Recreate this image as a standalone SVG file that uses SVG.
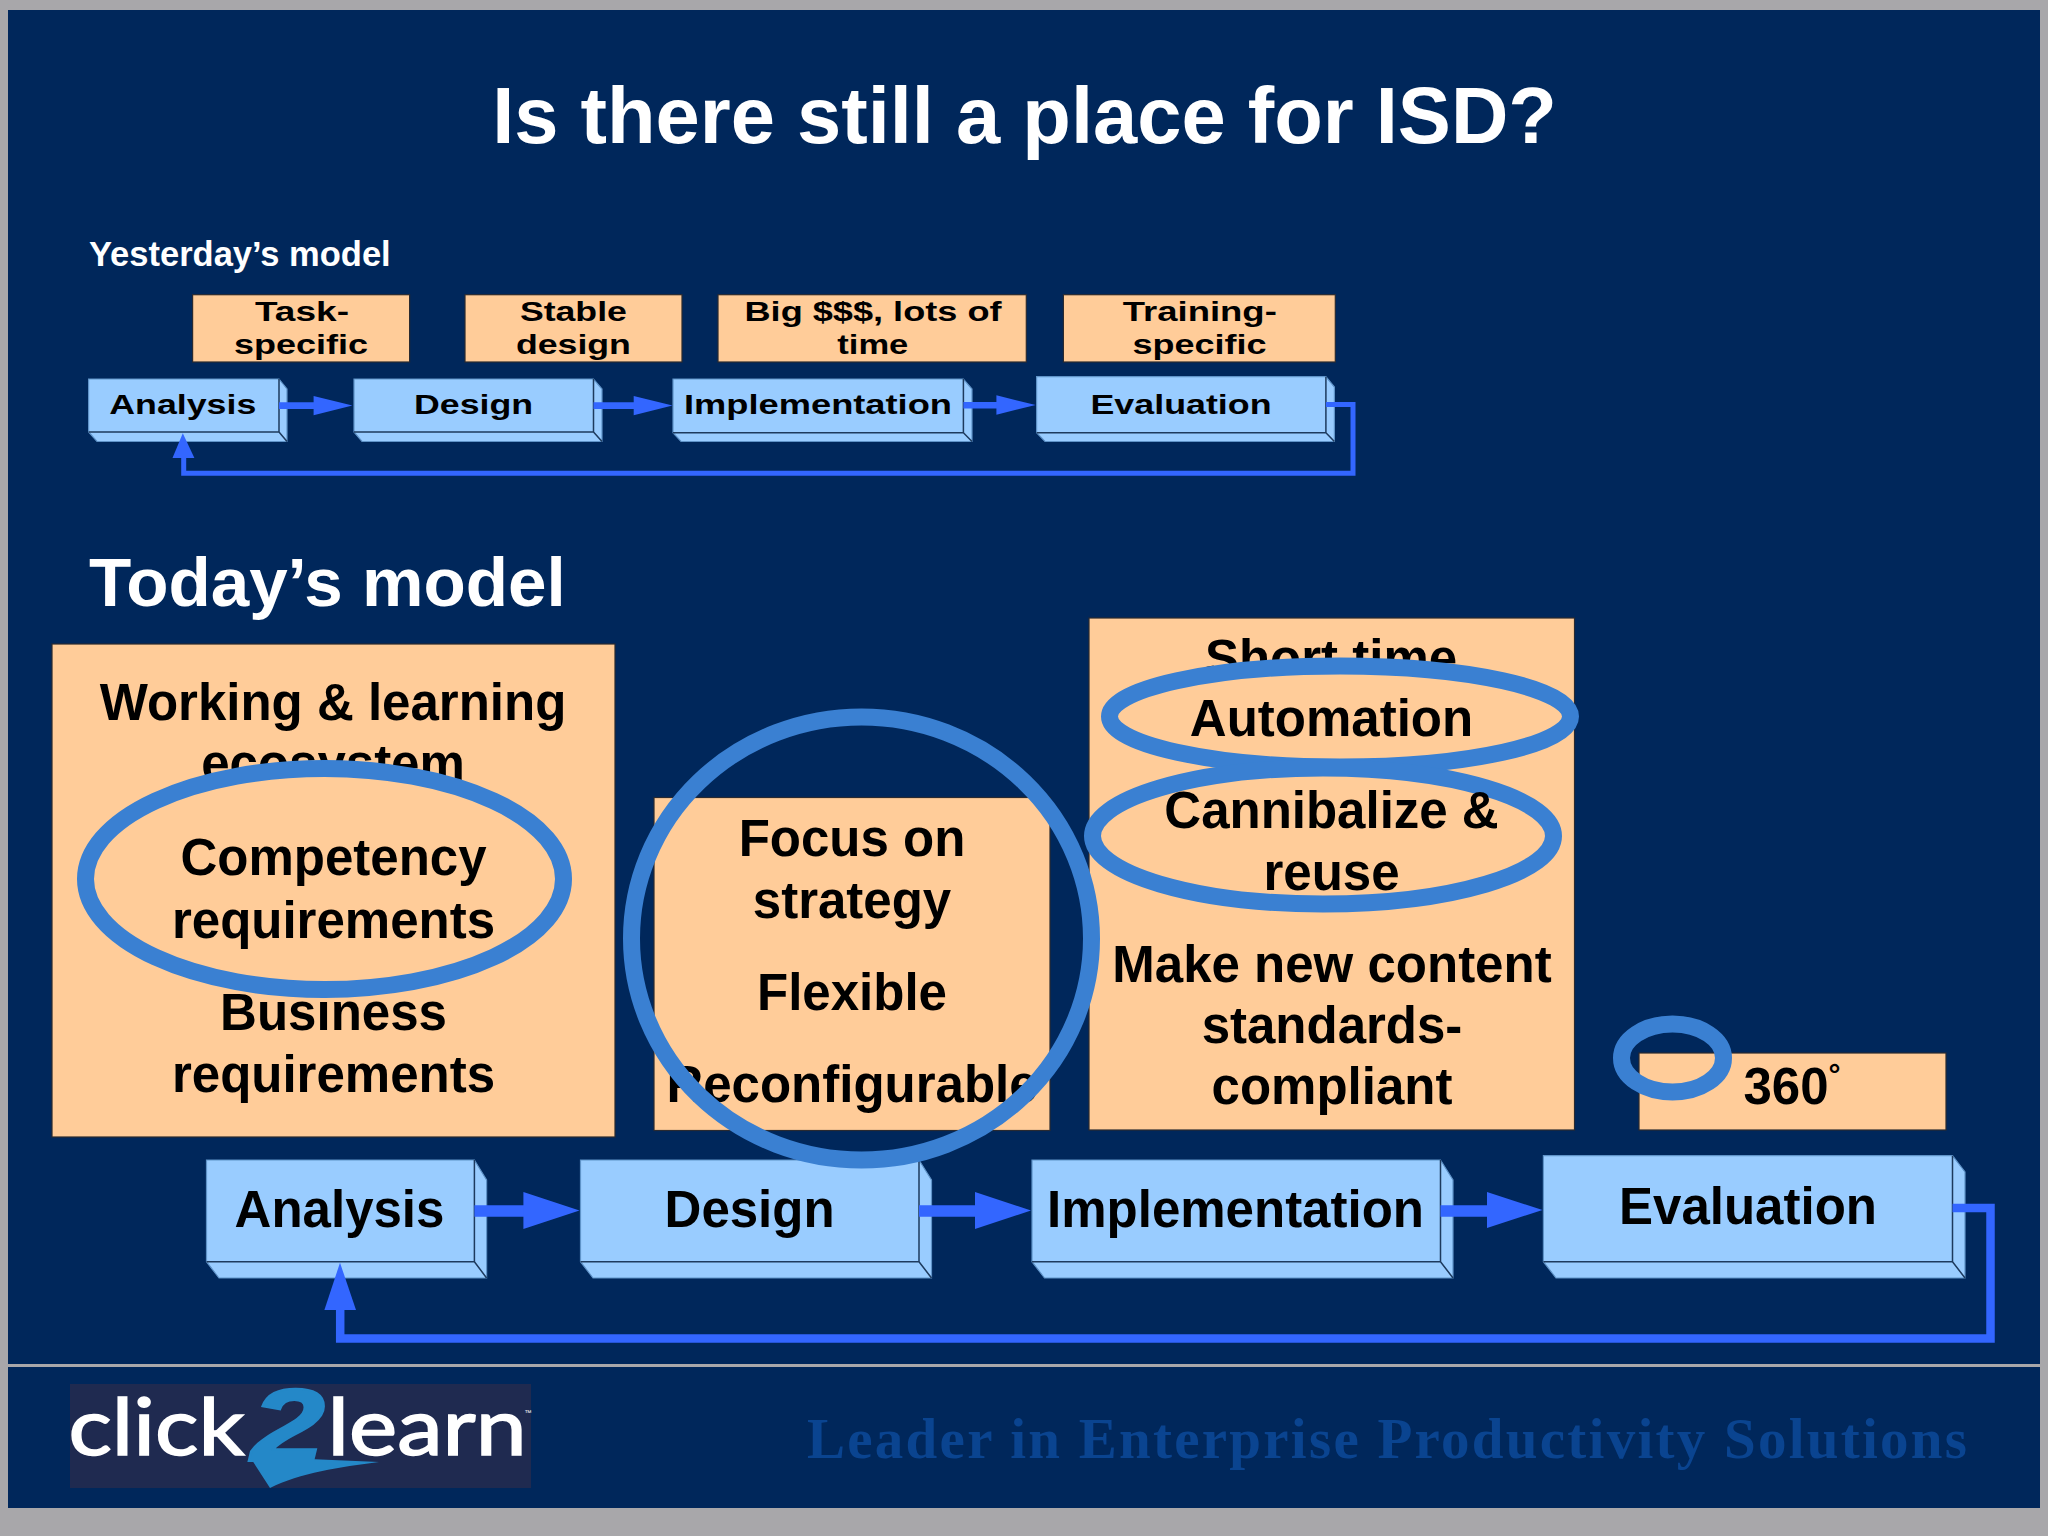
<svg xmlns="http://www.w3.org/2000/svg" width="2048" height="1536" viewBox="0 0 2048 1536">
<defs>
<style>
text{font-family:"Liberation Sans",Arial,sans-serif;font-weight:700;fill:#000;text-anchor:middle}
.big{font-size:51px}
.small{font-size:28px}
.head{fill:#fff;text-anchor:start}
.note{fill:#ffcc99;stroke:#2a2a30;stroke-width:1.2}
.face{fill:#99ccff;stroke:#5f93c8;stroke-width:1.2;stroke-linejoin:miter}
.edge{fill:none;stroke:#1d3a5e;stroke-width:1.5}
.ring{fill:none;stroke:#3a80d2;stroke-width:17}
.ringf{fill:#ffcc99;stroke:#3a80d2;stroke-width:17}
.conn{fill:none;stroke:#3366ff}
.tip{fill:#3366ff}
</style>
</defs>
<rect width="2048" height="1536" fill="#a8a7aa"/>
<rect x="8" y="10" width="2032" height="1498" fill="#00275b"/>
<rect x="8" y="1364" width="2032" height="3" fill="#a8a7aa"/>

<text id="title" x="1024.5" y="143" style="font-size:79.5px;fill:#fff">Is there still a place for ISD?</text>
<text id="yesterday-label" class="head" x="89" y="266" style="font-size:34.5px">Yesterday’s model</text>
<text id="today-label" class="head" x="89" y="606" style="font-size:69.2px">Today’s model</text>

<g id="y-note-task"><rect class="note" x="192.6" y="294.7" width="217" height="67.3"/>
<text class="small" x="302" y="321" textLength="94" lengthAdjust="spacingAndGlyphs">Task-</text>
<text class="small" x="301" y="354" textLength="134" lengthAdjust="spacingAndGlyphs">specific</text></g>
<g id="y-note-stable"><rect class="note" x="465" y="294.7" width="217" height="67.3"/>
<text class="small" x="573.4" y="321" textLength="107" lengthAdjust="spacingAndGlyphs">Stable</text>
<text class="small" x="573.4" y="354" textLength="115" lengthAdjust="spacingAndGlyphs">design</text></g>
<g id="y-note-big"><rect class="note" x="718" y="294.7" width="308.3" height="67.3"/>
<text class="small" x="873" y="321" textLength="257" lengthAdjust="spacingAndGlyphs">Big $$$, lots of</text>
<text class="small" x="872.8" y="354" textLength="71" lengthAdjust="spacingAndGlyphs">time</text></g>
<g id="y-note-training"><rect class="note" x="1063.4" y="294.7" width="271.9" height="67.3"/>
<text class="small" x="1199.8" y="321" textLength="154" lengthAdjust="spacingAndGlyphs">Training-</text>
<text class="small" x="1199.6" y="354" textLength="134" lengthAdjust="spacingAndGlyphs">specific</text></g>

<g id="y-analysis">
<path class="face" d="M88.6 379H279L287 389V441.5H97L88.6 432Z"/>
<path class="edge" d="M88.6 432H279V379M279 432L287 441.5"/>
<text class="small" x="182.8" y="414" textLength="147" lengthAdjust="spacingAndGlyphs">Analysis</text></g>
<g id="y-design">
<path class="face" d="M354 379H593.5L602 389V441.5H362L354 432Z"/>
<path class="edge" d="M354 432H593.5V379M593.5 432L602 441.5"/>
<text class="small" x="473.6" y="414" textLength="119" lengthAdjust="spacingAndGlyphs">Design</text></g>
<g id="y-implementation">
<path class="face" d="M673 379H963.4L972 389V441.5H681L673 432.7Z"/>
<path class="edge" d="M673 432.7H963.4V379M963.4 432.7L972 441.5"/>
<text class="small" x="818" y="414" textLength="268" lengthAdjust="spacingAndGlyphs">Implementation</text></g>
<g id="y-evaluation">
<path class="face" d="M1036.6 376.7H1325.9L1334.4 387V441.5H1045L1036.6 432.7Z"/>
<path class="edge" d="M1036.6 432.7H1325.9V376.7M1325.9 432.7L1334.4 441.5"/>
<text class="small" x="1181" y="413.7" textLength="181" lengthAdjust="spacingAndGlyphs">Evaluation</text></g>

<g id="t-note-left"><rect class="note" x="52" y="644" width="563" height="493"/>
<text class="big" x="333" y="719.5">Working &amp; learning</text>
<text class="big" x="333" y="781">ecosystem</text>
<text class="big" x="333.5" y="1030">Business</text>
<text class="big" x="333.5" y="1092">requirements</text>
<ellipse class="ringf" cx="324.5" cy="879" rx="239" ry="110.5"/>
<text class="big" x="333.5" y="875">Competency</text>
<text class="big" x="333.5" y="938">requirements</text></g>

<g id="t-note-middle"><rect class="note" x="654" y="797.5" width="396" height="333"/>
<text class="big" x="852" y="856">Focus on</text>
<text class="big" x="852" y="918">strategy</text>
<text class="big" x="852" y="1010">Flexible</text>
<text class="big" x="852" y="1102">Reconfigurable</text></g>

<g id="t-note-right"><rect class="note" x="1089" y="618" width="485.5" height="512"/>
<text class="big" x="1331" y="676">Short time</text>
<ellipse class="ringf" cx="1340" cy="716.5" rx="230.5" ry="50.5"/>
<ellipse class="ringf" cx="1323" cy="836" rx="230.5" ry="68"/>
<text class="big" x="1331.5" y="736">Automation</text>
<text class="big" x="1331.5" y="828">Cannibalize &amp;</text>
<text class="big" x="1331.5" y="889.5">reuse</text>
<text class="big" x="1332" y="982">Make new content</text>
<text class="big" x="1332" y="1043">standards-</text>
<text class="big" x="1332" y="1104">compliant</text></g>

<g id="t-note-360"><rect class="note" x="1639" y="1053" width="307" height="77"/>
<text class="big" x="1743.5" y="1104" style="text-anchor:start">360<tspan font-size="30" dy="-19">°</tspan></text></g>

<g id="t-analysis">
<path class="face" d="M206.5 1160H474.4L486.6 1180V1278H219L206.5 1261.7Z"/>
<path class="edge" d="M206.5 1261.7H474.4V1160M474.4 1261.7L486.6 1278"/>
<text class="big" x="339.5" y="1227">Analysis</text></g>
<g id="t-design">
<path class="face" d="M580.5 1160H919L931.5 1180V1278H593L580.5 1261.7Z"/>
<path class="edge" d="M580.5 1261.7H919V1160M919 1261.7L931.5 1278"/>
<text class="big" x="749.6" y="1227">Design</text></g>
<g id="t-implementation">
<path class="face" d="M1032 1160H1440.5L1453 1180V1278H1044.5L1032 1261.7Z"/>
<path class="edge" d="M1032 1261.7H1440.5V1160M1440.5 1261.7L1453 1278"/>
<text class="big" x="1235.5" y="1227">Implementation</text></g>
<g id="t-evaluation">
<path class="face" d="M1543.4 1155.7H1952.5L1965 1172V1278H1556L1543.4 1261.7Z"/>
<path class="edge" d="M1543.4 1261.7H1952.5V1155.7M1952.5 1261.7L1965 1278"/>
<text class="big" x="1748" y="1224">Evaluation</text></g>

<g id="connectors">
<path class="conn" stroke-width="6.6" d="M279 405.6H314M593.5 405.6H634M963.4 405.2H997"/>
<path class="tip" d="M313.6 396L352.4 405.6L313.6 415.3ZM633.7 396L672.5 405.6L633.7 415.3ZM996.4 395.3L1035.7 405L996.4 414.7Z"/>
<path class="conn" stroke-width="5" d="M1325.9 404.5H1353V473.3H183.7V458"/>
<path class="tip" d="M172.5 458L182.8 433.3L194.4 458Z"/>
<path class="conn" stroke-width="11.7" d="M474.4 1211H524M919 1211H976M1440.5 1211H1488"/>
<path class="tip" d="M523.4 1192L579.5 1210.5L523.4 1229ZM975 1192L1031 1210.5L975 1229ZM1487 1192L1542.5 1210L1487 1228Z"/>
<path class="conn" stroke-width="8.5" d="M1952.5 1208H1990.5V1338.5H340.2V1310"/>
<path class="tip" d="M324.4 1310L340 1262.7L356 1310Z"/>
</g>

<g id="highlight-circles">
<ellipse class="ring" cx="861.5" cy="938.5" rx="230" ry="221.5"/>
<ellipse class="ring" cx="1672.5" cy="1058" rx="51" ry="34"/>
</g>

<g id="logo">
<rect x="70" y="1384" width="461" height="104" fill="#1f2a50"/>
<path d="M250 1457L270 1488C300 1473 340 1467 379 1462L286 1458Z" fill="#2488c8"/>
<text x="288" y="1461" textLength="74" lengthAdjust="spacingAndGlyphs" style="font-size:104px;fill:#2488c8;stroke:#2488c8;stroke-width:2;font-style:italic">2</text>
<text x="156.5" y="1455" textLength="176" lengthAdjust="spacingAndGlyphs" style="font-family:Lato,'Noto Sans',sans-serif;font-weight:400;font-size:80px;fill:#fff;stroke:#fff;stroke-width:1.6">click</text>
<text x="427" y="1455" textLength="199" lengthAdjust="spacingAndGlyphs" style="font-family:Lato,'Noto Sans',sans-serif;font-weight:400;font-size:80px;fill:#fff;stroke:#fff;stroke-width:1.6">learn</text>
<text x="528" y="1415" style="font-size:7px;font-weight:400;fill:#fff">™</text>
</g>
<text id="tagline" x="807" y="1458" textLength="1160" style="font-family:'Liberation Serif','Times New Roman',serif;font-size:57px;fill:#0a4490;text-anchor:start">Leader in Enterprise Productivity Solutions</text>
</svg>
